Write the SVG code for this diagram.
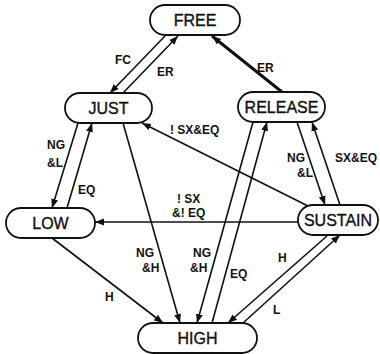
<svg xmlns="http://www.w3.org/2000/svg" width="380" height="354" viewBox="0 0 380 354">
<style>
.node rect{fill:#fff;stroke:#111;stroke-width:1.8}
.node text{font-family:"Liberation Sans",Arial,sans-serif;font-size:16px;fill:#111;stroke:#111;stroke-width:0.35;text-anchor:middle}
.edges line{stroke:#111;stroke-width:1.6;fill:none}
.edges line.thick{stroke-width:3}
.lbl{font-family:"Liberation Sans",Arial,sans-serif;font-size:12px;font-weight:bold;fill:#111}
</style>
<defs>
<marker id="arr" markerUnits="userSpaceOnUse" markerWidth="10" markerHeight="8" refX="9" refY="4" orient="auto">
<path d="M0,0.5 L9,4 L0,7.5 Z" fill="#111"/>
</marker>
</defs>
<rect width="380" height="354" fill="#fff"/>
<g class="edges">
<line x1="165" y1="36" x2="110" y2="93" marker-end="url(#arr)"/>
<line x1="123" y1="93" x2="178" y2="36" marker-end="url(#arr)"/>
<line class="thick" x1="282" y1="92" x2="212" y2="36" marker-end="url(#arr)"/>
<line x1="78" y1="123" x2="52" y2="208" marker-end="url(#arr)"/>
<line x1="67" y1="208" x2="92" y2="123" marker-end="url(#arr)"/>
<line x1="123" y1="123" x2="180" y2="323" marker-end="url(#arr)"/>
<line x1="52" y1="238" x2="163" y2="323" marker-end="url(#arr)"/>
<line x1="253" y1="122" x2="197" y2="323" marker-end="url(#arr)"/>
<line x1="212" y1="323" x2="267" y2="122" marker-end="url(#arr)"/>
<line x1="327" y1="236" x2="228" y2="323" marker-end="url(#arr)"/>
<line x1="243" y1="323" x2="340" y2="235" marker-end="url(#arr)"/>
<line x1="297" y1="122" x2="325" y2="205" marker-end="url(#arr)"/>
<line x1="340" y1="205" x2="312" y2="122" marker-end="url(#arr)"/>
<line x1="310" y1="207" x2="142" y2="123" marker-end="url(#arr)"/>
<line x1="298" y1="222" x2="95" y2="222" marker-end="url(#arr)"/>
</g>
<g id="labels">
<text class="lbl" x="115" y="64">FC</text>
<text class="lbl" x="157" y="76">ER</text>
<text class="lbl" x="257" y="72">ER</text>
<text class="lbl" x="47" y="149">NG</text>
<text class="lbl" x="47" y="167">&amp;L</text>
<text class="lbl" x="78" y="194">EQ</text>
<text class="lbl" x="170" y="134">! SX&amp;EQ</text>
<text class="lbl" x="287" y="162">NG</text>
<text class="lbl" x="297" y="177">&amp;L</text>
<text class="lbl" x="335" y="162">SX&amp;EQ</text>
<text class="lbl" x="177" y="203">! SX</text>
<text class="lbl" x="172" y="217">&amp;! EQ</text>
<text class="lbl" x="136" y="257">NG</text>
<text class="lbl" x="142" y="272">&amp;H</text>
<text class="lbl" x="193" y="257">NG</text>
<text class="lbl" x="190" y="272">&amp;H</text>
<text class="lbl" x="230" y="278">EQ</text>
<text class="lbl" x="278" y="262">H</text>
<text class="lbl" x="273" y="314">L</text>
<text class="lbl" x="105" y="301">H</text>
</g>
<g id="FREE" class="node"><rect x="150" y="5" width="90" height="30" rx="15"/><text x="195" y="26">FREE</text></g>
<g id="JUST" class="node"><rect x="65" y="93" width="87" height="30" rx="15"/><text x="108.5" y="114">JUST</text></g>
<g id="RELEASE" class="node"><rect x="238" y="92" width="87" height="30" rx="15"/><text x="281.5" y="113">RELEASE</text></g>
<g id="LOW" class="node"><rect x="6" y="208" width="89" height="30" rx="15"/><text x="50.5" y="229">LOW</text></g>
<g id="SUSTAIN" class="node"><rect x="298" y="205" width="80" height="30" rx="15"/><text x="338" y="226">SUSTAIN</text></g>
<g id="HIGH" class="node"><rect x="138" y="323" width="119" height="30" rx="15"/><text x="197.5" y="344">HIGH</text></g>
</svg>
